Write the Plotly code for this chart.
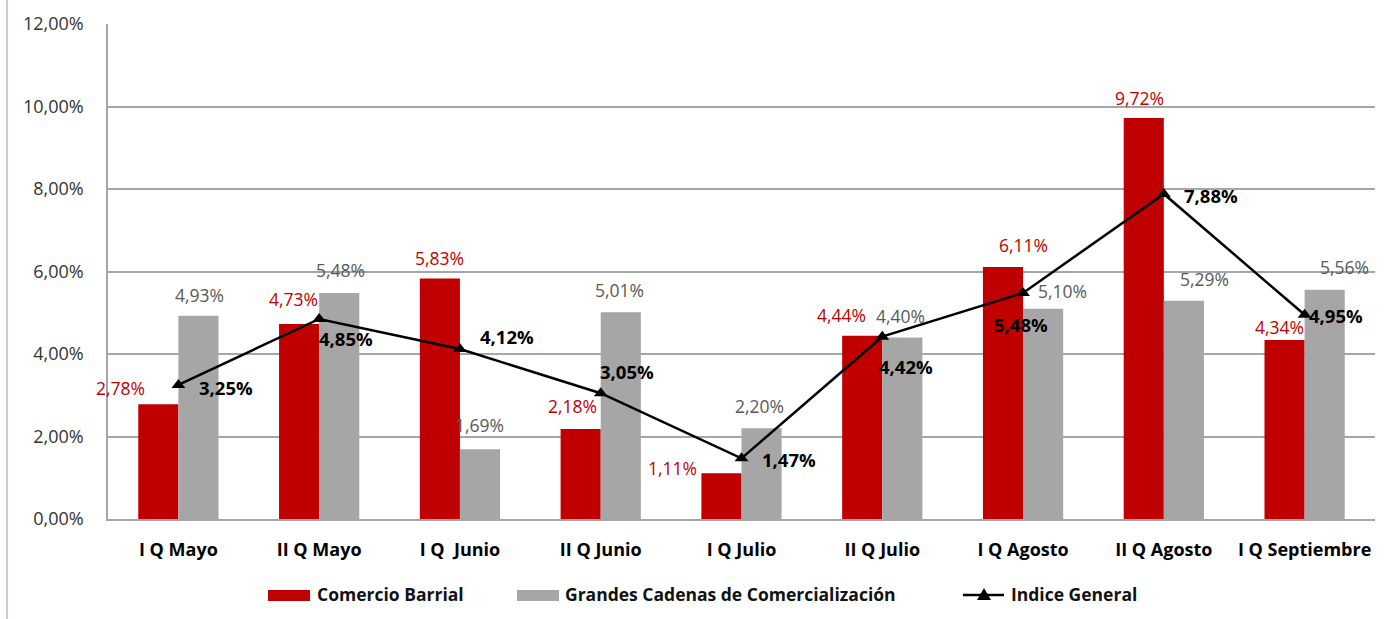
import plotly.graph_objects as go

categories = ["I Q Mayo", "II Q Mayo", "I Q  Junio", "II Q Junio", "I Q Julio",
              "II Q Julio", "I Q Agosto", "II Q Agosto", "I Q Septiembre"]
comercio_barrial = [2.78, 4.73, 5.83, 2.18, 1.11, 4.44, 6.11, 9.72, 4.34]
grandes_cadenas = [4.93, 5.48, 1.69, 5.01, 2.20, 4.40, 5.10, 5.29, 5.56]
indice_general = [3.25, 4.85, 4.12, 3.05, 1.47, 4.42, 5.48, 7.88, 4.95]
series_names = ["Comercio Barrial", "Grandes Cadenas de Comercialización", "Indice General"]

# label placement offsets (pixels, relative to category centre) - styling only
red_dx = [-58, -26, -20, -28, -69, -41, 0, -24, -25]
red_dy = [16, 25, 21, 23, 5, 21, 22, 20, 13]
gray_dx = [21, 21, 20, 19, 18, 18, 39, 41, 40]
gray_dy = [21, 23, 24, 22, 22, 22, 18, 22, 23]
line_dx = [48, 27, 47, 26, 47, 24, -2, 47, 31]
line_dy = [-3, -20, 13, 22, -1, -30, -32, -2, -1]

RED = "#C00000"
GRAY = "#A6A6A6"
FONT = "Open Sans, sans-serif"

W, H = 1397, 619
L, R, T, B = 108, 22, 24, 100
PW, PH = W - L - R, H - T - B

def px(x):
    return (x - L) / PW

def py(y):
    return (H - B - y) / PH

def fmt(v):
    return f"{v:.2f}".replace(".", ",") + "%"

fig = go.Figure()
fig.add_trace(go.Bar(x=categories, y=comercio_barrial, name=series_names[0],
                     marker=dict(color=RED, line=dict(width=0))))
fig.add_trace(go.Bar(x=categories, y=grandes_cadenas, name=series_names[1],
                     marker=dict(color=GRAY, line=dict(width=0))))
fig.add_trace(go.Scatter(x=categories, y=indice_general, name=series_names[2],
                         mode="lines+markers", line=dict(color="black", width=2.5),
                         marker=dict(symbol="triangle-up", size=12, color="black"),
                         cliponaxis=False))

for i, c in enumerate(categories):
    fig.add_annotation(x=c, y=comercio_barrial[i], text=fmt(comercio_barrial[i]),
                       xshift=red_dx[i], yshift=red_dy[i], showarrow=False,
                       font=dict(color=RED, size=17.5, family=FONT))
    fig.add_annotation(x=c, y=grandes_cadenas[i], text=fmt(grandes_cadenas[i]),
                       xshift=gray_dx[i], yshift=gray_dy[i], showarrow=False,
                       font=dict(color="#595959", size=17.5, family=FONT))
    fig.add_annotation(x=c, y=indice_general[i], text="<b>" + fmt(indice_general[i]) + "</b>",
                       xshift=line_dx[i], yshift=line_dy[i], showarrow=False,
                       font=dict(color="black", size=18.5, family=FONT))

# left frame line
fig.add_shape(type="line", xref="paper", yref="paper", x0=px(7), x1=px(7), y0=py(619), y1=py(0),
              line=dict(color="#C8CAD4", width=2))

# manual legend
legend_font = dict(family=FONT, size=17.5, color="#111111", weight="bold")
fig.add_shape(type="rect", xref="paper", yref="paper", x0=px(268), x1=px(310), y0=py(601), y1=py(590),
              fillcolor=RED, line=dict(width=0))
fig.add_annotation(xref="paper", yref="paper", x=px(315), y=py(594), text=series_names[0],
                   xanchor="left", yanchor="middle", showarrow=False, font=legend_font)
fig.add_shape(type="rect", xref="paper", yref="paper", x0=px(517), x1=px(559), y0=py(601), y1=py(590),
              fillcolor=GRAY, line=dict(width=0))
fig.add_annotation(xref="paper", yref="paper", x=px(563), y=py(594), text=series_names[1],
                   xanchor="left", yanchor="middle", showarrow=False, font=legend_font)
fig.add_shape(type="line", xref="paper", yref="paper", x0=px(963), x1=px(1004), y0=py(595), y1=py(595),
              line=dict(color="black", width=2.5))
fig.add_shape(type="path", xref="paper", yref="paper",
              path=f"M {px(977)} {py(600)} L {px(991)} {py(600)} L {px(984)} {py(588)} Z",
              fillcolor="black", line=dict(width=0))
fig.add_annotation(xref="paper", yref="paper", x=px(1009), y=py(594), text=series_names[2],
                   xanchor="left", yanchor="middle", showarrow=False, font=legend_font)

fig.update_layout(
    width=W, height=H,
    margin=dict(l=L, r=R, t=T, b=B),
    paper_bgcolor="white", plot_bgcolor="white",
    separators=",.",
    barmode="group", bargap=0.43, bargroupgap=0,
    showlegend=False,
    font=dict(family=FONT),
)
fig.update_xaxes(range=[-0.5, len(categories) - 0.5],
                 showline=True, linecolor="#A6A6A6", linewidth=1.5, automargin=False,
                 tickfont=dict(family=FONT, size=18, color="black", weight="bold"),
                 ticks="outside", ticklen=0, ticklabelstandoff=14, showgrid=False)
fig.update_yaxes(range=[0, 12], dtick=2, tickformat=".2f", ticksuffix="%", automargin=False,
                 showgrid=True, gridcolor="#A6A6A6", gridwidth=1.5,
                 showline=True, linecolor="#A6A6A6", linewidth=1.5,
                 zeroline=False, ticks="outside", ticklen=0, ticklabelstandoff=19,
                 tickfont=dict(family=FONT, size=18, color="#333333"))

fig.write_html("out.html", config={"displayModeBar": False},
               post_script="document.body.style.margin='0';document.body.style.overflow='hidden';")
